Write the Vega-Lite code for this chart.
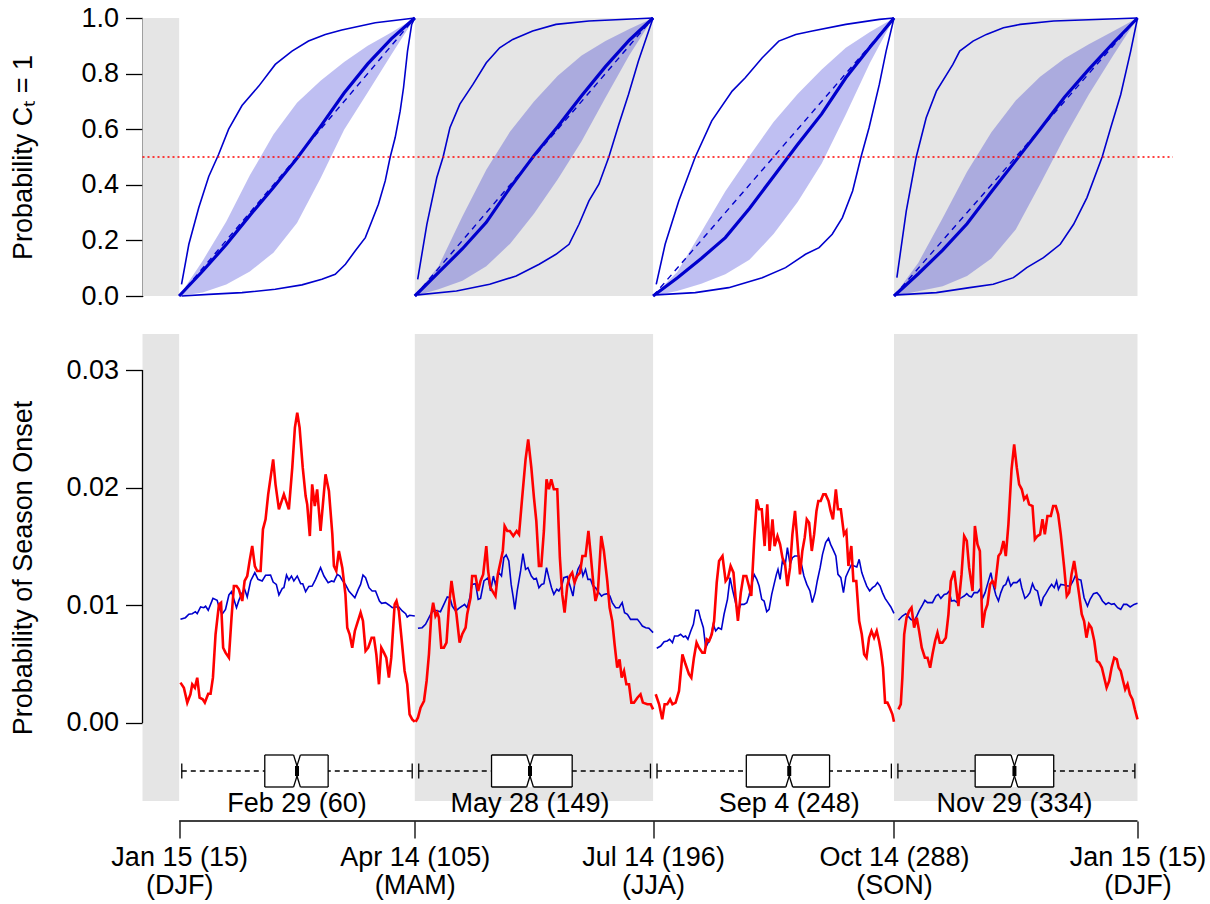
{
"$schema": "https://vega.github.io/schema/vega-lite/v6.json",
"padding": {"left": 8.5, "top": 4, "right": 5, "bottom": 5},
"background": "white",
"bounds": "flush",
"spacing": 38,
"config": {"font": "Liberation Sans", "view": {"stroke": null},
 "axis": {"labelFont": "Liberation Sans", "titleFont": "Liberation Sans", "labelColor": "#000", "titleColor": "#000", "tickColor": "#000", "domainColor": "#000", "grid": false, "labelFontSize": 27, "titleFontSize": 27, "titleFontWeight": "normal", "tickSize": 17, "tickWidth": 1.3, "domainWidth": 1.3, "labelPadding": 7, "labelOverlap": false, "labelFlush": false, "labelBound": false}},
"datasets": {
 "shade": [{"s": 1, "e": 15}, {"s": 105, "e": 196}, {"s": 288, "e": 381}],
 "diag": [{"g":"DJF","d":15,"p":0},{"g":"DJF","d":105,"p":1},{"g":"MAM","d":105,"p":0},{"g":"MAM","d":196,"p":1},{"g":"JJA","d":196,"p":0},{"g":"JJA","d":288,"p":1},{"g":"SON","d":288,"p":0},{"g":"SON","d":381,"p":1}],
 "band": [
  {"g":"DJF","d":15,"lo":0,"hi":0},{"g":"DJF","d":24,"lo":0.013,"hi":0.127},{"g":"DJF","d":33,"lo":0.041,"hi":0.268},{"g":"DJF","d":42,"lo":0.088,"hi":0.434},{"g":"DJF","d":51,"lo":0.156,"hi":0.581},{"g":"DJF","d":60,"lo":0.263,"hi":0.695},{"g":"DJF","d":69,"lo":0.424,"hi":0.774},{"g":"DJF","d":78,"lo":0.598,"hi":0.842},{"g":"DJF","d":87,"lo":0.732,"hi":0.9},{"g":"DJF","d":96,"lo":0.868,"hi":0.948},{"g":"DJF","d":105,"lo":1,"hi":1},
  {"g":"MAM","d":105,"lo":0,"hi":0},{"g":"MAM","d":114.1,"lo":0.024,"hi":0.108},{"g":"MAM","d":123.2,"lo":0.055,"hi":0.287},{"g":"MAM","d":132.3,"lo":0.107,"hi":0.454},{"g":"MAM","d":141.4,"lo":0.188,"hi":0.592},{"g":"MAM","d":150.5,"lo":0.296,"hi":0.7},{"g":"MAM","d":159.6,"lo":0.42,"hi":0.792},{"g":"MAM","d":168.7,"lo":0.557,"hi":0.865},{"g":"MAM","d":177.8,"lo":0.713,"hi":0.917},{"g":"MAM","d":186.9,"lo":0.866,"hi":0.96},{"g":"MAM","d":196,"lo":1,"hi":1},
  {"g":"JJA","d":196,"lo":0,"hi":0},{"g":"JJA","d":205.2,"lo":0.018,"hi":0.086},{"g":"JJA","d":214.4,"lo":0.044,"hi":0.23},{"g":"JJA","d":223.6,"lo":0.078,"hi":0.377},{"g":"JJA","d":232.8,"lo":0.13,"hi":0.504},{"g":"JJA","d":242,"lo":0.223,"hi":0.626},{"g":"JJA","d":251.2,"lo":0.338,"hi":0.727},{"g":"JJA","d":260.4,"lo":0.477,"hi":0.815},{"g":"JJA","d":269.6,"lo":0.653,"hi":0.893},{"g":"JJA","d":278.8,"lo":0.838,"hi":0.95},{"g":"JJA","d":288,"lo":1,"hi":1},
  {"g":"SON","d":288,"lo":0,"hi":0},{"g":"SON","d":297.3,"lo":0.017,"hi":0.12},{"g":"SON","d":306.6,"lo":0.035,"hi":0.281},{"g":"SON","d":315.9,"lo":0.072,"hi":0.447},{"g":"SON","d":325.2,"lo":0.135,"hi":0.589},{"g":"SON","d":334.5,"lo":0.239,"hi":0.703},{"g":"SON","d":343.8,"lo":0.402,"hi":0.789},{"g":"SON","d":353.1,"lo":0.57,"hi":0.854},{"g":"SON","d":362.4,"lo":0.725,"hi":0.906},{"g":"SON","d":371.7,"lo":0.865,"hi":0.952},{"g":"SON","d":381,"lo":1,"hi":1}],
 "med": [
  {"g":"DJF","d":15,"p":0},{"g":"DJF","d":24,"p":0.09},{"g":"DJF","d":33,"p":0.185},{"g":"DJF","d":42,"p":0.29},{"g":"DJF","d":51,"p":0.39},{"g":"DJF","d":60,"p":0.495},{"g":"DJF","d":69,"p":0.61},{"g":"DJF","d":78,"p":0.73},{"g":"DJF","d":87,"p":0.835},{"g":"DJF","d":96,"p":0.925},{"g":"DJF","d":105,"p":1},
  {"g":"MAM","d":105,"p":0},{"g":"MAM","d":114.1,"p":0.085},{"g":"MAM","d":123.2,"p":0.17},{"g":"MAM","d":132.3,"p":0.265},{"g":"MAM","d":141.4,"p":0.39},{"g":"MAM","d":150.5,"p":0.505},{"g":"MAM","d":159.6,"p":0.61},{"g":"MAM","d":168.7,"p":0.72},{"g":"MAM","d":177.8,"p":0.825},{"g":"MAM","d":186.9,"p":0.92},{"g":"MAM","d":196,"p":1},
  {"g":"JJA","d":196,"p":0},{"g":"JJA","d":205.2,"p":0.065},{"g":"JJA","d":214.4,"p":0.135},{"g":"JJA","d":223.6,"p":0.21},{"g":"JJA","d":232.8,"p":0.315},{"g":"JJA","d":242,"p":0.43},{"g":"JJA","d":251.2,"p":0.545},{"g":"JJA","d":260.4,"p":0.655},{"g":"JJA","d":269.6,"p":0.785},{"g":"JJA","d":278.8,"p":0.895},{"g":"JJA","d":288,"p":1},
  {"g":"SON","d":288,"p":0},{"g":"SON","d":297.3,"p":0.08},{"g":"SON","d":306.6,"p":0.165},{"g":"SON","d":315.9,"p":0.26},{"g":"SON","d":325.2,"p":0.375},{"g":"SON","d":334.5,"p":0.487},{"g":"SON","d":343.8,"p":0.6},{"g":"SON","d":353.1,"p":0.715},{"g":"SON","d":362.4,"p":0.815},{"g":"SON","d":371.7,"p":0.91},{"g":"SON","d":381,"p":1}],
 "env": [
  {"g":"DJF","b":"u","d":15.9,"p":0.042},{"g":"DJF","b":"u","d":18.7,"p":0.186},{"g":"DJF","b":"u","d":22.5,"p":0.318},{"g":"DJF","b":"u","d":26.3,"p":0.43},{"g":"DJF","b":"u","d":30.1,"p":0.51},{"g":"DJF","b":"u","d":33.9,"p":0.6},{"g":"DJF","b":"u","d":39,"p":0.685},{"g":"DJF","b":"u","d":45.4,"p":0.755},{"g":"DJF","b":"u","d":51.7,"p":0.833},{"g":"DJF","b":"u","d":58.1,"p":0.881},{"g":"DJF","b":"u","d":64.4,"p":0.917},{"g":"DJF","b":"u","d":70.8,"p":0.941},{"g":"DJF","b":"u","d":77.1,"p":0.957},{"g":"DJF","b":"u","d":89.9,"p":0.983},{"g":"DJF","b":"u","d":105,"p":1},
  {"g":"DJF","b":"l","d":15.9,"p":0},{"g":"DJF","b":"l","d":26.3,"p":0.006},{"g":"DJF","b":"l","d":39,"p":0.012},{"g":"DJF","b":"l","d":51.7,"p":0.024},{"g":"DJF","b":"l","d":61.9,"p":0.04},{"g":"DJF","b":"l","d":69.5,"p":0.06},{"g":"DJF","b":"l","d":74.6,"p":0.078},{"g":"DJF","b":"l","d":78.5,"p":0.114},{"g":"DJF","b":"l","d":82.2,"p":0.162},{"g":"DJF","b":"l","d":86.1,"p":0.21},{"g":"DJF","b":"l","d":88.6,"p":0.27},{"g":"DJF","b":"l","d":91.1,"p":0.33},{"g":"DJF","b":"l","d":93.7,"p":0.414},{"g":"DJF","b":"l","d":95.6,"p":0.5},{"g":"DJF","b":"l","d":97.5,"p":0.57},{"g":"DJF","b":"l","d":99.4,"p":0.665},{"g":"DJF","b":"l","d":100.7,"p":0.75},{"g":"DJF","b":"l","d":102.2,"p":0.88},{"g":"DJF","b":"l","d":103.8,"p":0.977},{"g":"DJF","b":"l","d":105,"p":1},
  {"g":"MAM","b":"u","d":106.1,"p":0.06},{"g":"MAM","b":"u","d":109.6,"p":0.258},{"g":"MAM","b":"u","d":113.4,"p":0.426},{"g":"MAM","b":"u","d":115.8,"p":0.5},{"g":"MAM","b":"u","d":118.4,"p":0.605},{"g":"MAM","b":"u","d":122.2,"p":0.69},{"g":"MAM","b":"u","d":127.2,"p":0.761},{"g":"MAM","b":"u","d":132.3,"p":0.839},{"g":"MAM","b":"u","d":137.4,"p":0.893},{"g":"MAM","b":"u","d":142.4,"p":0.923},{"g":"MAM","b":"u","d":150,"p":0.953},{"g":"MAM","b":"u","d":158.9,"p":0.977},{"g":"MAM","b":"u","d":171.5,"p":0.989},{"g":"MAM","b":"u","d":196,"p":1},
  {"g":"MAM","b":"l","d":106.1,"p":0.004},{"g":"MAM","b":"l","d":120.9,"p":0.018},{"g":"MAM","b":"l","d":133.6,"p":0.042},{"g":"MAM","b":"l","d":143.7,"p":0.072},{"g":"MAM","b":"l","d":152.5,"p":0.114},{"g":"MAM","b":"l","d":158.9,"p":0.15},{"g":"MAM","b":"l","d":163.9,"p":0.186},{"g":"MAM","b":"l","d":167.7,"p":0.258},{"g":"MAM","b":"l","d":171.5,"p":0.342},{"g":"MAM","b":"l","d":175.3,"p":0.402},{"g":"MAM","b":"l","d":179.1,"p":0.5},{"g":"MAM","b":"l","d":182.9,"p":0.617},{"g":"MAM","b":"l","d":186.6,"p":0.725},{"g":"MAM","b":"l","d":190.4,"p":0.845},{"g":"MAM","b":"l","d":194.3,"p":0.953},{"g":"MAM","b":"l","d":196,"p":1},
  {"g":"JJA","b":"u","d":197.2,"p":0.042},{"g":"JJA","b":"u","d":200.6,"p":0.186},{"g":"JJA","b":"u","d":205.8,"p":0.342},{"g":"JJA","b":"u","d":212.1,"p":0.5},{"g":"JJA","b":"u","d":218.4,"p":0.63},{"g":"JJA","b":"u","d":226.2,"p":0.737},{"g":"JJA","b":"u","d":231.2,"p":0.785},{"g":"JJA","b":"u","d":237.7,"p":0.857},{"g":"JJA","b":"u","d":244,"p":0.917},{"g":"JJA","b":"u","d":250.5,"p":0.941},{"g":"JJA","b":"u","d":256.8,"p":0.953},{"g":"JJA","b":"u","d":269.6,"p":0.977},{"g":"JJA","b":"u","d":282.4,"p":0.995},{"g":"JJA","b":"u","d":288,"p":1},
  {"g":"JJA","b":"l","d":197.2,"p":0.004},{"g":"JJA","b":"l","d":212.1,"p":0.012},{"g":"JJA","b":"l","d":224.9,"p":0.03},{"g":"JJA","b":"l","d":237.7,"p":0.066},{"g":"JJA","b":"l","d":246.6,"p":0.102},{"g":"JJA","b":"l","d":254.2,"p":0.15},{"g":"JJA","b":"l","d":259.4,"p":0.174},{"g":"JJA","b":"l","d":264.4,"p":0.222},{"g":"JJA","b":"l","d":268.3,"p":0.282},{"g":"JJA","b":"l","d":272.2,"p":0.378},{"g":"JJA","b":"l","d":275.4,"p":0.5},{"g":"JJA","b":"l","d":278.5,"p":0.606},{"g":"JJA","b":"l","d":282.4,"p":0.761},{"g":"JJA","b":"l","d":285,"p":0.881},{"g":"JJA","b":"l","d":288,"p":1},
  {"g":"SON","b":"u","d":289.1,"p":0.066},{"g":"SON","b":"u","d":292.7,"p":0.306},{"g":"SON","b":"u","d":296.5,"p":0.5},{"g":"SON","b":"u","d":300.3,"p":0.641},{"g":"SON","b":"u","d":304.2,"p":0.737},{"g":"SON","b":"u","d":310.5,"p":0.833},{"g":"SON","b":"u","d":313.1,"p":0.881},{"g":"SON","b":"u","d":318.2,"p":0.917},{"g":"SON","b":"u","d":323.3,"p":0.941},{"g":"SON","b":"u","d":329.8,"p":0.965},{"g":"SON","b":"u","d":336.2,"p":0.977},{"g":"SON","b":"u","d":349,"p":0.989},{"g":"SON","b":"u","d":381,"p":1},
  {"g":"SON","b":"l","d":289.1,"p":0.004},{"g":"SON","b":"l","d":304.2,"p":0.012},{"g":"SON","b":"l","d":316.9,"p":0.03},{"g":"SON","b":"l","d":325.9,"p":0.042},{"g":"SON","b":"l","d":333.6,"p":0.066},{"g":"SON","b":"l","d":338.7,"p":0.102},{"g":"SON","b":"l","d":345.1,"p":0.138},{"g":"SON","b":"l","d":351.5,"p":0.186},{"g":"SON","b":"l","d":356.6,"p":0.258},{"g":"SON","b":"l","d":361.7,"p":0.354},{"g":"SON","b":"l","d":367.5,"p":0.5},{"g":"SON","b":"l","d":370.8,"p":0.606},{"g":"SON","b":"l","d":374.6,"p":0.725},{"g":"SON","b":"l","d":378.4,"p":0.881},{"g":"SON","b":"l","d":381,"p":1}],
 "red": [
  {"g":"DJF","d":15.5,"p":0.00343},{"g":"DJF","d":16.8,"p":0.0030},{"g":"DJF","d":18.1,"p":0.00173},{"g":"DJF","d":19.3,"p":0.00244},{"g":"DJF","d":20,"p":0.00329},{"g":"DJF","d":21,"p":0.0030},{"g":"DJF","d":21.9,"p":0.00385},{"g":"DJF","d":22.8,"p":0.00215},{"g":"DJF","d":24,"p":0.00201},{"g":"DJF","d":24.8,"p":0.00173},{"g":"DJF","d":26.1,"p":0.00249},{"g":"DJF","d":27,"p":0.00249},{"g":"DJF","d":27.9,"p":0.00385},{"g":"DJF","d":28.9,"p":0.00754},{"g":"DJF","d":30.2,"p":0.01008},{"g":"DJF","d":31,"p":0.01023},{"g":"DJF","d":31.8,"p":0.0064},{"g":"DJF","d":32.7,"p":0.00598},{"g":"DJF","d":34,"p":0.00555},{"g":"DJF","d":35,"p":0.00895},{"g":"DJF","d":35.9,"p":0.01164},{"g":"DJF","d":36.9,"p":0.01164},{"g":"DJF","d":37.8,"p":0.01136},{"g":"DJF","d":39.1,"p":0.01037},{"g":"DJF","d":40,"p":0.01207},{"g":"DJF","d":41,"p":0.01249},{"g":"DJF","d":41.9,"p":0.01377},{"g":"DJF","d":42.9,"p":0.01504},{"g":"DJF","d":43.9,"p":0.01334},{"g":"DJF","d":44.8,"p":0.01292},{"g":"DJF","d":46.1,"p":0.01292},{"g":"DJF","d":47,"p":0.01646},{"g":"DJF","d":48,"p":0.01731},{"g":"DJF","d":49,"p":0.01943},{"g":"DJF","d":50.9,"p":0.02241},{"g":"DJF","d":51.8,"p":0.02028},{"g":"DJF","d":53.1,"p":0.01816},{"g":"DJF","d":55,"p":0.01943},{"g":"DJF","d":56.9,"p":0.01816},{"g":"DJF","d":58.2,"p":0.0217},{"g":"DJF","d":59.2,"p":0.0251},{"g":"DJF","d":60.1,"p":0.02637},{"g":"DJF","d":61,"p":0.0251},{"g":"DJF","d":62.2,"p":0.0217},{"g":"DJF","d":63.3,"p":0.01929},{"g":"DJF","d":63.9,"p":0.01858},{"g":"DJF","d":64.9,"p":0.01589},{"g":"DJF","d":65.8,"p":0.02028},{"g":"DJF","d":66.8,"p":0.01844},{"g":"DJF","d":67.7,"p":0.01986},{"g":"DJF","d":69,"p":0.01632},{"g":"DJF","d":70.9,"p":0.02113},{"g":"DJF","d":72.2,"p":0.01972},{"g":"DJF","d":73.5,"p":0.01603},{"g":"DJF","d":74.1,"p":0.01334},{"g":"DJF","d":75,"p":0.01292},{"g":"DJF","d":76,"p":0.01462},{"g":"DJF","d":77.3,"p":0.0132},{"g":"DJF","d":78.5,"p":0.01093},{"g":"DJF","d":79.2,"p":0.0081},{"g":"DJF","d":80.1,"p":0.00754},{"g":"DJF","d":81.1,"p":0.0064},{"g":"DJF","d":82.1,"p":0.00782},{"g":"DJF","d":83.3,"p":0.00867},{"g":"DJF","d":84.3,"p":0.00938},{"g":"DJF","d":85.2,"p":0.00867},{"g":"DJF","d":86.2,"p":0.00612},{"g":"DJF","d":87.2,"p":0.0064},{"g":"DJF","d":88.5,"p":0.00725},{"g":"DJF","d":89.4,"p":0.00725},{"g":"DJF","d":90.3,"p":0.00584},{"g":"DJF","d":91.3,"p":0.00329},{"g":"DJF","d":92.2,"p":0.0064},{"g":"DJF","d":93.2,"p":0.00598},{"g":"DJF","d":94.1,"p":0.00555},{"g":"DJF","d":95.1,"p":0.00385},{"g":"DJF","d":96,"p":0.00555},{"g":"DJF","d":97.3,"p":0.01008},{"g":"DJF","d":98,"p":0.01037},{"g":"DJF","d":98.9,"p":0.00952},{"g":"DJF","d":99.9,"p":0.00725},{"g":"DJF","d":101.1,"p":0.00442},{"g":"DJF","d":102.1,"p":0.00329},{"g":"DJF","d":103,"p":0.00074},{"g":"DJF","d":104,"p":0.00031},{"g":"DJF","d":105,"p":0.0001},
  {"g":"MAM","d":105.3,"p":0.0001},{"g":"MAM","d":106.2,"p":0.00045},{"g":"MAM","d":107.2,"p":0.0013},{"g":"MAM","d":108.5,"p":0.00187},{"g":"MAM","d":109.5,"p":0.00357},{"g":"MAM","d":110.4,"p":0.00584},{"g":"MAM","d":111.3,"p":0.00924},{"g":"MAM","d":112,"p":0.01023},{"g":"MAM","d":112.9,"p":0.00909},{"g":"MAM","d":113.6,"p":0.00938},{"g":"MAM","d":114.2,"p":0.00895},{"g":"MAM","d":115.1,"p":0.0064},{"g":"MAM","d":116.1,"p":0.0064},{"g":"MAM","d":117.1,"p":0.00683},{"g":"MAM","d":118,"p":0.0098},{"g":"MAM","d":119,"p":0.01207},{"g":"MAM","d":119.9,"p":0.01065},{"g":"MAM","d":120.9,"p":0.00924},{"g":"MAM","d":122.1,"p":0.00683},{"g":"MAM","d":123.1,"p":0.00754},{"g":"MAM","d":124.4,"p":0.0081},{"g":"MAM","d":125,"p":0.00924},{"g":"MAM","d":126.3,"p":0.01065},{"g":"MAM","d":126.9,"p":0.01249},{"g":"MAM","d":128.2,"p":0.01249},{"g":"MAM","d":129.2,"p":0.01122},{"g":"MAM","d":130.1,"p":0.01207},{"g":"MAM","d":131.1,"p":0.01263},{"g":"MAM","d":132.3,"p":0.01504},{"g":"MAM","d":133,"p":0.01292},{"g":"MAM","d":133.9,"p":0.0115},{"g":"MAM","d":135,"p":0.01108},{"g":"MAM","d":135.8,"p":0.01079},{"g":"MAM","d":136.7,"p":0.01263},{"g":"MAM","d":137.8,"p":0.01377},{"g":"MAM","d":138.6,"p":0.01462},{"g":"MAM","d":139.3,"p":0.01674},{"g":"MAM","d":140.3,"p":0.01632},{"g":"MAM","d":141.3,"p":0.01632},{"g":"MAM","d":142.6,"p":0.01589},{"g":"MAM","d":143.9,"p":0.01632},{"g":"MAM","d":144.8,"p":0.01603},{"g":"MAM","d":146,"p":0.01915},{"g":"MAM","d":147.3,"p":0.02241},{"g":"MAM","d":148.3,"p":0.02411},{"g":"MAM","d":149.5,"p":0.0217},{"g":"MAM","d":150.5,"p":0.01915},{"g":"MAM","d":151.4,"p":0.01717},{"g":"MAM","d":152.4,"p":0.01334},{"g":"MAM","d":153.3,"p":0.01334},{"g":"MAM","d":154.3,"p":0.01632},{"g":"MAM","d":155.3,"p":0.02071},{"g":"MAM","d":156.2,"p":0.01986},{"g":"MAM","d":157.1,"p":0.02071},{"g":"MAM","d":158.1,"p":0.01986},{"g":"MAM","d":159.4,"p":0.01986},{"g":"MAM","d":160.4,"p":0.01405},{"g":"MAM","d":161.3,"p":0.01093},{"g":"MAM","d":162.2,"p":0.00938},{"g":"MAM","d":163.2,"p":0.01164},{"g":"MAM","d":164.2,"p":0.01249},{"g":"MAM","d":165.1,"p":0.01278},{"g":"MAM","d":166,"p":0.01193},{"g":"MAM","d":167,"p":0.01249},{"g":"MAM","d":168.1,"p":0.01278},{"g":"MAM","d":169,"p":0.01419},{"g":"MAM","d":170.2,"p":0.01419},{"g":"MAM","d":171.3,"p":0.01632},{"g":"MAM","d":172.1,"p":0.01448},{"g":"MAM","d":173.2,"p":0.01178},{"g":"MAM","d":174,"p":0.01037},{"g":"MAM","d":174.9,"p":0.01108},{"g":"MAM","d":176.2,"p":0.01589},{"g":"MAM","d":177.2,"p":0.01462},{"g":"MAM","d":178.5,"p":0.01207},{"g":"MAM","d":179.4,"p":0.0098},{"g":"MAM","d":180.4,"p":0.00867},{"g":"MAM","d":181.3,"p":0.00669},{"g":"MAM","d":182.3,"p":0.0047},{"g":"MAM","d":183.2,"p":0.00541},{"g":"MAM","d":184,"p":0.00385},{"g":"MAM","d":184.9,"p":0.00442},{"g":"MAM","d":185.8,"p":0.00329},{"g":"MAM","d":186.8,"p":0.00329},{"g":"MAM","d":187.7,"p":0.00173},{"g":"MAM","d":188.7,"p":0.00173},{"g":"MAM","d":190,"p":0.00215},{"g":"MAM","d":191.2,"p":0.00244},{"g":"MAM","d":192.1,"p":0.00173},{"g":"MAM","d":193.8,"p":0.00159},{"g":"MAM","d":195.1,"p":0.00159},{"g":"MAM","d":196,"p":0.00116},
  {"g":"JJA","d":197,"p":0.00244},{"g":"JJA","d":198.3,"p":0.00159},{"g":"JJA","d":199.5,"p":0.00031},{"g":"JJA","d":200.4,"p":0.00159},{"g":"JJA","d":201.4,"p":0.00159},{"g":"JJA","d":202.5,"p":0.00201},{"g":"JJA","d":203.4,"p":0.00159},{"g":"JJA","d":204.6,"p":0.00173},{"g":"JJA","d":205.9,"p":0.00272},{"g":"JJA","d":207.2,"p":0.00584},{"g":"JJA","d":208.4,"p":0.00499},{"g":"JJA","d":209.7,"p":0.00414},{"g":"JJA","d":210.6,"p":0.00385},{"g":"JJA","d":211.6,"p":0.00555},{"g":"JJA","d":212.6,"p":0.00683},{"g":"JJA","d":213.5,"p":0.0064},{"g":"JJA","d":214.8,"p":0.00598},{"g":"JJA","d":215.7,"p":0.00598},{"g":"JJA","d":216.5,"p":0.00711},{"g":"JJA","d":217.4,"p":0.00697},{"g":"JJA","d":218.4,"p":0.00754},{"g":"JJA","d":219.3,"p":0.00867},{"g":"JJA","d":220.3,"p":0.01193},{"g":"JJA","d":221.2,"p":0.01377},{"g":"JJA","d":222.5,"p":0.01419},{"g":"JJA","d":223.7,"p":0.01207},{"g":"JJA","d":224.6,"p":0.01235},{"g":"JJA","d":225.6,"p":0.01334},{"g":"JJA","d":226.7,"p":0.01278},{"g":"JJA","d":227.5,"p":0.01065},{"g":"JJA","d":228.4,"p":0.00867},{"g":"JJA","d":229.5,"p":0.01108},{"g":"JJA","d":230.5,"p":0.01249},{"g":"JJA","d":231.6,"p":0.01249},{"g":"JJA","d":232.6,"p":0.01164},{"g":"JJA","d":233.5,"p":0.01079},{"g":"JJA","d":234.6,"p":0.01547},{"g":"JJA","d":235.6,"p":0.01901},{"g":"JJA","d":236.5,"p":0.01816},{"g":"JJA","d":237.5,"p":0.01816},{"g":"JJA","d":238.6,"p":0.01504},{"g":"JJA","d":239.6,"p":0.01858},{"g":"JJA","d":240.5,"p":0.01462},{"g":"JJA","d":241.6,"p":0.01731},{"g":"JJA","d":242.4,"p":0.01504},{"g":"JJA","d":243.5,"p":0.01589},{"g":"JJA","d":244.5,"p":0.01518},{"g":"JJA","d":245.4,"p":0.01405},{"g":"JJA","d":246.4,"p":0.01348},{"g":"JJA","d":247.3,"p":0.01164},{"g":"JJA","d":248.3,"p":0.0132},{"g":"JJA","d":249.2,"p":0.01603},{"g":"JJA","d":250.2,"p":0.01802},{"g":"JJA","d":251.1,"p":0.01547},{"g":"JJA","d":252.1,"p":0.01263},{"g":"JJA","d":253,"p":0.01462},{"g":"JJA","d":253.9,"p":0.01575},{"g":"JJA","d":254.7,"p":0.01731},{"g":"JJA","d":255.6,"p":0.01703},{"g":"JJA","d":256.6,"p":0.01462},{"g":"JJA","d":257.5,"p":0.01603},{"g":"JJA","d":258.4,"p":0.01802},{"g":"JJA","d":259.1,"p":0.01887},{"g":"JJA","d":260,"p":0.01887},{"g":"JJA","d":261,"p":0.01943},{"g":"JJA","d":261.9,"p":0.01943},{"g":"JJA","d":263,"p":0.01887},{"g":"JJA","d":263.8,"p":0.01802},{"g":"JJA","d":264.7,"p":0.01731},{"g":"JJA","d":265.8,"p":0.01986},{"g":"JJA","d":266.6,"p":0.01816},{"g":"JJA","d":267.7,"p":0.01816},{"g":"JJA","d":268.9,"p":0.01603},{"g":"JJA","d":269.8,"p":0.01632},{"g":"JJA","d":270.6,"p":0.01334},{"g":"JJA","d":271.7,"p":0.01504},{"g":"JJA","d":272.5,"p":0.01207},{"g":"JJA","d":273.6,"p":0.01207},{"g":"JJA","d":274.7,"p":0.00867},{"g":"JJA","d":275.7,"p":0.00754},{"g":"JJA","d":276.6,"p":0.00584},{"g":"JJA","d":277.5,"p":0.00555},{"g":"JJA","d":278.5,"p":0.00725},{"g":"JJA","d":279.4,"p":0.00782},{"g":"JJA","d":280.4,"p":0.00725},{"g":"JJA","d":281.4,"p":0.00782},{"g":"JJA","d":282.3,"p":0.00697},{"g":"JJA","d":283,"p":0.00612},{"g":"JJA","d":283.8,"p":0.0047},{"g":"JJA","d":284.6,"p":0.00173},{"g":"JJA","d":285.5,"p":0.00173},{"g":"JJA","d":286.4,"p":0.0013},{"g":"JJA","d":287.4,"p":0.00074},{"g":"JJA","d":288,"p":0.0001},
  {"g":"SON","d":289.7,"p":0.00116},{"g":"SON","d":290.6,"p":0.00159},{"g":"SON","d":291.2,"p":0.00385},{"g":"SON","d":291.9,"p":0.00754},{"g":"SON","d":292.8,"p":0.00895},{"g":"SON","d":293.8,"p":0.00952},{"g":"SON","d":294.7,"p":0.0098},{"g":"SON","d":295.7,"p":0.0081},{"g":"SON","d":296.7,"p":0.00895},{"g":"SON","d":297.6,"p":0.00782},{"g":"SON","d":298.6,"p":0.0064},{"g":"SON","d":299.8,"p":0.00555},{"g":"SON","d":300.8,"p":0.00555},{"g":"SON","d":301.8,"p":0.0047},{"g":"SON","d":302.7,"p":0.00584},{"g":"SON","d":303.7,"p":0.00697},{"g":"SON","d":304.6,"p":0.00768},{"g":"SON","d":305.5,"p":0.00683},{"g":"SON","d":306.5,"p":0.00683},{"g":"SON","d":307.8,"p":0.00725},{"g":"SON","d":308.8,"p":0.00924},{"g":"SON","d":309.7,"p":0.01207},{"g":"SON","d":311,"p":0.01292},{"g":"SON","d":311.9,"p":0.01122},{"g":"SON","d":312.6,"p":0.00994},{"g":"SON","d":313.8,"p":0.01263},{"g":"SON","d":314.8,"p":0.01589},{"g":"SON","d":315.8,"p":0.01547},{"g":"SON","d":316.7,"p":0.0132},{"g":"SON","d":318,"p":0.01122},{"g":"SON","d":318.9,"p":0.01674},{"g":"SON","d":319.9,"p":0.01518},{"g":"SON","d":320.8,"p":0.01462},{"g":"SON","d":321.8,"p":0.0081},{"g":"SON","d":322.8,"p":0.00952},{"g":"SON","d":323.7,"p":0.01008},{"g":"SON","d":324.7,"p":0.01178},{"g":"SON","d":325.6,"p":0.01207},{"g":"SON","d":326.6,"p":0.01164},{"g":"SON","d":327.9,"p":0.01419},{"g":"SON","d":328.8,"p":0.01448},{"g":"SON","d":329.8,"p":0.01547},{"g":"SON","d":330.7,"p":0.01419},{"g":"SON","d":331.7,"p":0.01688},{"g":"SON","d":332.9,"p":0.02156},{"g":"SON","d":333.9,"p":0.02368},{"g":"SON","d":334.9,"p":0.0217},{"g":"SON","d":335.8,"p":0.02028},{"g":"SON","d":336.8,"p":0.01986},{"g":"SON","d":337.7,"p":0.01901},{"g":"SON","d":338.7,"p":0.01929},{"g":"SON","d":339.6,"p":0.01858},{"g":"SON","d":340.9,"p":0.01844},{"g":"SON","d":341.8,"p":0.01561},{"g":"SON","d":342.8,"p":0.01589},{"g":"SON","d":343.8,"p":0.01603},{"g":"SON","d":344.7,"p":0.01731},{"g":"SON","d":345.6,"p":0.01603},{"g":"SON","d":346.6,"p":0.01759},{"g":"SON","d":347.9,"p":0.01759},{"g":"SON","d":348.8,"p":0.01844},{"g":"SON","d":349.8,"p":0.01844},{"g":"SON","d":350.7,"p":0.01773},{"g":"SON","d":351.7,"p":0.01603},{"g":"SON","d":353,"p":0.0132},{"g":"SON","d":354,"p":0.01079},{"g":"SON","d":354.9,"p":0.01108},{"g":"SON","d":355.8,"p":0.01263},{"g":"SON","d":356.8,"p":0.01377},{"g":"SON","d":357.8,"p":0.01235},{"g":"SON","d":358.7,"p":0.01093},{"g":"SON","d":359.7,"p":0.00924},{"g":"SON","d":360.6,"p":0.00867},{"g":"SON","d":361.5,"p":0.00725},{"g":"SON","d":362.5,"p":0.00839},{"g":"SON","d":363.4,"p":0.0081},{"g":"SON","d":364.5,"p":0.00697},{"g":"SON","d":365.5,"p":0.00527},{"g":"SON","d":366.4,"p":0.00513},{"g":"SON","d":367.4,"p":0.0047},{"g":"SON","d":368.3,"p":0.00385},{"g":"SON","d":369.2,"p":0.0030},{"g":"SON","d":370.2,"p":0.00357},{"g":"SON","d":371.1,"p":0.0047},{"g":"SON","d":372.1,"p":0.00555},{"g":"SON","d":373.1,"p":0.00541},{"g":"SON","d":373.8,"p":0.0047},{"g":"SON","d":374.6,"p":0.00442},{"g":"SON","d":375.5,"p":0.00357},{"g":"SON","d":376.3,"p":0.00286},{"g":"SON","d":377.2,"p":0.00329},{"g":"SON","d":378.1,"p":0.00244},{"g":"SON","d":379.1,"p":0.00201},{"g":"SON","d":380,"p":0.00116},{"g":"SON","d":381,"p":0.00031}],
 "blue": [
  {"g":"DJF","d":15.5,"p":0.00881},{"g":"DJF","d":17.4,"p":0.00895},{"g":"DJF","d":18.7,"p":0.00924},{"g":"DJF","d":20,"p":0.00929},{"g":"DJF","d":21.2,"p":0.00946},{"g":"DJF","d":21.9,"p":0.00929},{"g":"DJF","d":23.2,"p":0.00986},{"g":"DJF","d":24.4,"p":0.0098},{"g":"DJF","d":25.1,"p":0.00992},{"g":"DJF","d":26.1,"p":0.00958},{"g":"DJF","d":27.9,"p":0.01059},{"g":"DJF","d":29.5,"p":0.01042},{"g":"DJF","d":30.5,"p":0.00966},{"g":"DJF","d":31.4,"p":0.00924},{"g":"DJF","d":32.7,"p":0.00966},{"g":"DJF","d":34,"p":0.01088},{"g":"DJF","d":35,"p":0.01116},{"g":"DJF","d":35.9,"p":0.01051},{"g":"DJF","d":36.9,"p":0.0098},{"g":"DJF","d":37.8,"p":0.01042},{"g":"DJF","d":39.1,"p":0.01108},{"g":"DJF","d":40,"p":0.01136},{"g":"DJF","d":41,"p":0.01071},{"g":"DJF","d":42.3,"p":0.01207},{"g":"DJF","d":43.9,"p":0.01278},{"g":"DJF","d":45.1,"p":0.01221},{"g":"DJF","d":46.7,"p":0.01207},{"g":"DJF","d":48,"p":0.01255},{"g":"DJF","d":49.9,"p":0.01258},{"g":"DJF","d":50.9,"p":0.01198},{"g":"DJF","d":52.1,"p":0.01178},{"g":"DJF","d":53.1,"p":0.01088},{"g":"DJF","d":54.4,"p":0.01144},{"g":"DJF","d":55,"p":0.0115},{"g":"DJF","d":56,"p":0.01258},{"g":"DJF","d":56.9,"p":0.01215},{"g":"DJF","d":57.9,"p":0.01249},{"g":"DJF","d":58.8,"p":0.01207},{"g":"DJF","d":60.1,"p":0.01249},{"g":"DJF","d":61.4,"p":0.01184},{"g":"DJF","d":62.2,"p":0.01184},{"g":"DJF","d":63.3,"p":0.01116},{"g":"DJF","d":64.5,"p":0.01161},{"g":"DJF","d":65.8,"p":0.01164},{"g":"DJF","d":67.1,"p":0.01221},{"g":"DJF","d":69,"p":0.0132},{"g":"DJF","d":70.3,"p":0.01249},{"g":"DJF","d":71.9,"p":0.01193},{"g":"DJF","d":73.2,"p":0.01207},{"g":"DJF","d":74.1,"p":0.01201},{"g":"DJF","d":75.4,"p":0.01263},{"g":"DJF","d":76.4,"p":0.01249},{"g":"DJF","d":77.3,"p":0.01212},{"g":"DJF","d":78.5,"p":0.01178},{"g":"DJF","d":79.8,"p":0.01122},{"g":"DJF","d":82.1,"p":0.01065},{"g":"DJF","d":83.4,"p":0.01136},{"g":"DJF","d":84.3,"p":0.01178},{"g":"DJF","d":85.2,"p":0.01258},{"g":"DJF","d":86.2,"p":0.01235},{"g":"DJF","d":87.5,"p":0.0115},{"g":"DJF","d":88.7,"p":0.01122},{"g":"DJF","d":90,"p":0.01122},{"g":"DJF","d":91.5,"p":0.01037},{"g":"DJF","d":92.3,"p":0.01017},{"g":"DJF","d":93.8,"p":0.01023},{"g":"DJF","d":95.1,"p":0.01003},{"g":"DJF","d":96.4,"p":0.0098},{"g":"DJF","d":97.6,"p":0.00986},{"g":"DJF","d":98.9,"p":0.00986},{"g":"DJF","d":100.2,"p":0.00952},{"g":"DJF","d":101.5,"p":0.00929},{"g":"DJF","d":102.1,"p":0.00901},{"g":"DJF","d":103,"p":0.00915},{"g":"DJF","d":105,"p":0.00909},
  {"g":"MAM","d":106.2,"p":0.00805},{"g":"MAM","d":107.8,"p":0.0081},{"g":"MAM","d":109.1,"p":0.00839},{"g":"MAM","d":110.4,"p":0.00895},{"g":"MAM","d":111.6,"p":0.00946},{"g":"MAM","d":112.9,"p":0.00958},{"g":"MAM","d":114.8,"p":0.00946},{"g":"MAM","d":116.1,"p":0.01008},{"g":"MAM","d":117.4,"p":0.01071},{"g":"MAM","d":118.4,"p":0.01065},{"g":"MAM","d":119.3,"p":0.00994},{"g":"MAM","d":120.6,"p":0.00952},{"g":"MAM","d":121.8,"p":0.00975},{"g":"MAM","d":123.1,"p":0.00994},{"g":"MAM","d":124,"p":0.01008},{"g":"MAM","d":125,"p":0.0098},{"g":"MAM","d":126,"p":0.01065},{"g":"MAM","d":126.9,"p":0.01178},{"g":"MAM","d":128.2,"p":0.01184},{"g":"MAM","d":129.2,"p":0.01051},{"g":"MAM","d":130.1,"p":0.01059},{"g":"MAM","d":131.4,"p":0.01207},{"g":"MAM","d":133,"p":0.01235},{"g":"MAM","d":133.9,"p":0.01122},{"g":"MAM","d":135,"p":0.01249},{"g":"MAM","d":135.8,"p":0.01178},{"g":"MAM","d":137.1,"p":0.01278},{"g":"MAM","d":138.1,"p":0.01249},{"g":"MAM","d":139,"p":0.01405},{"g":"MAM","d":139.9,"p":0.01428},{"g":"MAM","d":140.9,"p":0.01377},{"g":"MAM","d":141.8,"p":0.01178},{"g":"MAM","d":142.6,"p":0.01065},{"g":"MAM","d":143.2,"p":0.00966},{"g":"MAM","d":144.1,"p":0.01122},{"g":"MAM","d":145.4,"p":0.01292},{"g":"MAM","d":146.3,"p":0.01439},{"g":"MAM","d":147.3,"p":0.01306},{"g":"MAM","d":148.2,"p":0.0132},{"g":"MAM","d":149.5,"p":0.01249},{"g":"MAM","d":150.5,"p":0.01221},{"g":"MAM","d":151.4,"p":0.01229},{"g":"MAM","d":152.4,"p":0.0115},{"g":"MAM","d":153.4,"p":0.01178},{"g":"MAM","d":154.3,"p":0.01184},{"g":"MAM","d":155.3,"p":0.0132},{"g":"MAM","d":156.2,"p":0.01235},{"g":"MAM","d":157.2,"p":0.0115},{"g":"MAM","d":158.1,"p":0.01093},{"g":"MAM","d":159.2,"p":0.01136},{"g":"MAM","d":160,"p":0.01122},{"g":"MAM","d":161.1,"p":0.01164},{"g":"MAM","d":161.9,"p":0.01235},{"g":"MAM","d":163.2,"p":0.01244},{"g":"MAM","d":164.5,"p":0.0115},{"g":"MAM","d":165.4,"p":0.01079},{"g":"MAM","d":166.2,"p":0.01207},{"g":"MAM","d":167.3,"p":0.01306},{"g":"MAM","d":168.3,"p":0.01348},{"g":"MAM","d":169.2,"p":0.01249},{"g":"MAM","d":170.2,"p":0.01306},{"g":"MAM","d":171.1,"p":0.01221},{"g":"MAM","d":172.1,"p":0.01221},{"g":"MAM","d":173,"p":0.01164},{"g":"MAM","d":174,"p":0.0115},{"g":"MAM","d":175.3,"p":0.01108},{"g":"MAM","d":176.3,"p":0.01079},{"g":"MAM","d":177.2,"p":0.01093},{"g":"MAM","d":178.5,"p":0.01099},{"g":"MAM","d":179.5,"p":0.01079},{"g":"MAM","d":180.4,"p":0.01023},{"g":"MAM","d":181.7,"p":0.0098},{"g":"MAM","d":183,"p":0.0098},{"g":"MAM","d":184.2,"p":0.01023},{"g":"MAM","d":185.1,"p":0.00938},{"g":"MAM","d":186.2,"p":0.00924},{"g":"MAM","d":187.4,"p":0.00881},{"g":"MAM","d":188.7,"p":0.00881},{"g":"MAM","d":190,"p":0.00881},{"g":"MAM","d":191,"p":0.00853},{"g":"MAM","d":191.9,"p":0.00824},{"g":"MAM","d":193.2,"p":0.0081},{"g":"MAM","d":194.4,"p":0.00805},{"g":"MAM","d":196,"p":0.00768},
  {"g":"JJA","d":197.4,"p":0.00635},{"g":"JJA","d":198.9,"p":0.00654},{"g":"JJA","d":200.2,"p":0.00691},{"g":"JJA","d":201.4,"p":0.00697},{"g":"JJA","d":202.3,"p":0.00711},{"g":"JJA","d":203.4,"p":0.00683},{"g":"JJA","d":204.2,"p":0.00739},{"g":"JJA","d":205.5,"p":0.00739},{"g":"JJA","d":206.5,"p":0.00754},{"g":"JJA","d":207.6,"p":0.00731},{"g":"JJA","d":208.4,"p":0.00739},{"g":"JJA","d":209.3,"p":0.00711},{"g":"JJA","d":210.4,"p":0.00782},{"g":"JJA","d":211.4,"p":0.00839},{"g":"JJA","d":212.3,"p":0.00958},{"g":"JJA","d":213.3,"p":0.00958},{"g":"JJA","d":214.2,"p":0.00881},{"g":"JJA","d":215.2,"p":0.0081},{"g":"JJA","d":216.1,"p":0.0064},{"g":"JJA","d":217,"p":0.00683},{"g":"JJA","d":218,"p":0.00725},{"g":"JJA","d":219,"p":0.00839},{"g":"JJA","d":219.9,"p":0.00782},{"g":"JJA","d":220.9,"p":0.0081},{"g":"JJA","d":222.1,"p":0.00796},{"g":"JJA","d":223.1,"p":0.00924},{"g":"JJA","d":224.4,"p":0.01051},{"g":"JJA","d":225.4,"p":0.01235},{"g":"JJA","d":226.3,"p":0.01136},{"g":"JJA","d":227.5,"p":0.01023},{"g":"JJA","d":228.4,"p":0.00946},{"g":"JJA","d":229.5,"p":0.01008},{"g":"JJA","d":230.7,"p":0.01008},{"g":"JJA","d":231.8,"p":0.01023},{"g":"JJA","d":232.6,"p":0.01079},{"g":"JJA","d":233.5,"p":0.01164},{"g":"JJA","d":234.6,"p":0.01263},{"g":"JJA","d":235.6,"p":0.01221},{"g":"JJA","d":236.5,"p":0.01164},{"g":"JJA","d":237.5,"p":0.01051},{"g":"JJA","d":238.4,"p":0.01037},{"g":"JJA","d":239.4,"p":0.00946},{"g":"JJA","d":240.3,"p":0.00966},{"g":"JJA","d":241.3,"p":0.01093},{"g":"JJA","d":242.2,"p":0.01178},{"g":"JJA","d":243.1,"p":0.01263},{"g":"JJA","d":243.7,"p":0.01306},{"g":"JJA","d":244.5,"p":0.01221},{"g":"JJA","d":245.4,"p":0.01382},{"g":"JJA","d":246.4,"p":0.01334},{"g":"JJA","d":247.3,"p":0.0149},{"g":"JJA","d":248.3,"p":0.01348},{"g":"JJA","d":249.2,"p":0.01405},{"g":"JJA","d":250.1,"p":0.01419},{"g":"JJA","d":251.7,"p":0.01419},{"g":"JJA","d":252.8,"p":0.01334},{"g":"JJA","d":253.6,"p":0.01249},{"g":"JJA","d":254.7,"p":0.01178},{"g":"JJA","d":255.9,"p":0.01122},{"g":"JJA","d":256.8,"p":0.01023},{"g":"JJA","d":257.9,"p":0.01108},{"g":"JJA","d":258.7,"p":0.01207},{"g":"JJA","d":259.8,"p":0.0132},{"g":"JJA","d":260.7,"p":0.01433},{"g":"JJA","d":261.9,"p":0.01533},{"g":"JJA","d":263,"p":0.01569},{"g":"JJA","d":263.8,"p":0.01518},{"g":"JJA","d":264.7,"p":0.01476},{"g":"JJA","d":265.8,"p":0.01419},{"g":"JJA","d":266.6,"p":0.01263},{"g":"JJA","d":267.7,"p":0.01235},{"g":"JJA","d":268.7,"p":0.01108},{"g":"JJA","d":269.6,"p":0.01241},{"g":"JJA","d":270.6,"p":0.01292},{"g":"JJA","d":271.7,"p":0.01343},{"g":"JJA","d":272.8,"p":0.01334},{"g":"JJA","d":273.8,"p":0.01326},{"g":"JJA","d":274.7,"p":0.01391},{"g":"JJA","d":275.7,"p":0.01278},{"g":"JJA","d":276.6,"p":0.01221},{"g":"JJA","d":277.6,"p":0.01164},{"g":"JJA","d":278.7,"p":0.01122},{"g":"JJA","d":279.8,"p":0.0115},{"g":"JJA","d":280.8,"p":0.01164},{"g":"JJA","d":281.7,"p":0.01193},{"g":"JJA","d":282.7,"p":0.01164},{"g":"JJA","d":283.6,"p":0.01108},{"g":"JJA","d":284.6,"p":0.01059},{"g":"JJA","d":285.7,"p":0.01023},{"g":"JJA","d":286.8,"p":0.00986},{"g":"JJA","d":288,"p":0.00932},
  {"g":"SON","d":289.7,"p":0.00873},{"g":"SON","d":291.2,"p":0.00909},{"g":"SON","d":292.5,"p":0.00929},{"g":"SON","d":293.4,"p":0.00909},{"g":"SON","d":294.4,"p":0.00881},{"g":"SON","d":295.7,"p":0.00867},{"g":"SON","d":296.7,"p":0.00909},{"g":"SON","d":297.6,"p":0.00952},{"g":"SON","d":298.9,"p":0.01003},{"g":"SON","d":299.8,"p":0.01042},{"g":"SON","d":300.8,"p":0.01023},{"g":"SON","d":302.7,"p":0.01023},{"g":"SON","d":304,"p":0.01079},{"g":"SON","d":304.9,"p":0.01093},{"g":"SON","d":305.9,"p":0.01059},{"g":"SON","d":307.2,"p":0.01093},{"g":"SON","d":308.2,"p":0.01099},{"g":"SON","d":309.1,"p":0.01122},{"g":"SON","d":309.9,"p":0.01037},{"g":"SON","d":311,"p":0.01042},{"g":"SON","d":311.9,"p":0.01028},{"g":"SON","d":312.6,"p":0.01051},{"g":"SON","d":313.8,"p":0.01065},{"g":"SON","d":314.8,"p":0.01079},{"g":"SON","d":315.8,"p":0.01099},{"g":"SON","d":316.7,"p":0.01079},{"g":"SON","d":317.6,"p":0.01071},{"g":"SON","d":318.6,"p":0.01108},{"g":"SON","d":319.9,"p":0.01108},{"g":"SON","d":320.8,"p":0.01136},{"g":"SON","d":321.8,"p":0.01059},{"g":"SON","d":322.8,"p":0.01108},{"g":"SON","d":323.7,"p":0.01178},{"g":"SON","d":325,"p":0.01278},{"g":"SON","d":326,"p":0.01164},{"g":"SON","d":326.9,"p":0.01088},{"g":"SON","d":327.9,"p":0.01037},{"g":"SON","d":328.8,"p":0.01108},{"g":"SON","d":329.8,"p":0.01164},{"g":"SON","d":330.7,"p":0.01178},{"g":"SON","d":331.6,"p":0.01235},{"g":"SON","d":332.6,"p":0.01164},{"g":"SON","d":333.6,"p":0.01193},{"g":"SON","d":334.9,"p":0.01193},{"g":"SON","d":336.1,"p":0.01221},{"g":"SON","d":336.8,"p":0.0115},{"g":"SON","d":338,"p":0.01059},{"g":"SON","d":339,"p":0.01079},{"g":"SON","d":339.9,"p":0.01108},{"g":"SON","d":340.9,"p":0.01184},{"g":"SON","d":341.8,"p":0.01136},{"g":"SON","d":342.8,"p":0.01122},{"g":"SON","d":344.1,"p":0.00994},{"g":"SON","d":345,"p":0.01065},{"g":"SON","d":346,"p":0.01099},{"g":"SON","d":347.3,"p":0.0115},{"g":"SON","d":348.2,"p":0.01178},{"g":"SON","d":349.2,"p":0.0115},{"g":"SON","d":350.1,"p":0.01207},{"g":"SON","d":350.8,"p":0.01136},{"g":"SON","d":351.7,"p":0.01178},{"g":"SON","d":353,"p":0.01173},{"g":"SON","d":354.3,"p":0.01164},{"g":"SON","d":355.3,"p":0.01164},{"g":"SON","d":356.4,"p":0.01207},{"g":"SON","d":357.2,"p":0.01249},{"g":"SON","d":358.3,"p":0.01221},{"g":"SON","d":359.4,"p":0.01215},{"g":"SON","d":360.6,"p":0.01065},{"g":"SON","d":361.9,"p":0.00994},{"g":"SON","d":362.9,"p":0.01051},{"g":"SON","d":364.2,"p":0.01099},{"g":"SON","d":365.5,"p":0.01108},{"g":"SON","d":366.6,"p":0.01079},{"g":"SON","d":367.6,"p":0.01037},{"g":"SON","d":368.9,"p":0.01008},{"g":"SON","d":369.9,"p":0.01023},{"g":"SON","d":371.1,"p":0.01008},{"g":"SON","d":372.1,"p":0.01014},{"g":"SON","d":373.4,"p":0.0098},{"g":"SON","d":374.6,"p":0.00966},{"g":"SON","d":375.7,"p":0.01008},{"g":"SON","d":376.9,"p":0.01008},{"g":"SON","d":378.2,"p":0.00986},{"g":"SON","d":379.7,"p":0.01008},{"g":"SON","d":381,"p":0.01017}],
 "box": [
  {"g":"DJF","wlo":16,"whi":104,"q1":47.7,"nlo":58.7,"med":60,"nhi":61.3,"q3":71.9,"label":"Feb 29 (60)"},
  {"g":"MAM","wlo":106.5,"whi":195,"q1":134.3,"nlo":147.7,"med":149,"nhi":150.3,"q3":165.1,"label":"May 28 (149)"},
  {"g":"JJA","wlo":197.5,"whi":287,"q1":231.6,"nlo":246.7,"med":248,"nhi":249.3,"q3":263.4,"label":"Sep 4 (248)"},
  {"g":"SON","wlo":289.5,"whi":380,"q1":319,"nlo":332.7,"med":334,"nhi":335.3,"q3":349,"label":"Nov 29 (334)"}]
},
"vconcat": [
 {"width": 995, "height": 278,
  "layer": [
   {"data": {"name": "shade"}, "mark": {"type": "rect", "color": "#E5E5E5"},
    "encoding": {"x": {"field": "s", "type": "quantitative", "scale": {"domain": [1, 381], "nice": false, "zero": false}, "axis": null}, "x2": {"field": "e"}}},
   {"data": {"name": "band"}, "mark": {"type": "area", "color": "#0000CD", "opacity": 0.25},
    "encoding": {"x": {"field": "d", "type": "quantitative", "scale": {"domain": [1, 381], "nice": false, "zero": false}, "axis": null},
     "y": {"field": "lo", "type": "quantitative", "scale": {"domain": [0, 1], "nice": false, "zero": false},
      "axis": {"values": [0, 0.2, 0.4, 0.6, 0.8, 1], "format": ".1f", "title": "Probability Cₜ = 1", "titleX": -119, "titleY": 139, "titleBaseline": "middle", "titleAngle": -90}},
     "y2": {"field": "hi"}, "detail": {"field": "g"}}},
   {"data": {"name": "diag"}, "mark": {"type": "line", "color": "#0000CD", "strokeWidth": 1.4, "strokeDash": [6, 5]},
    "encoding": {"x": {"field": "d", "type": "quantitative", "axis": null}, "y": {"field": "p", "type": "quantitative"}, "detail": {"field": "g"}}},
   {"data": {"name": "env"}, "mark": {"type": "line", "color": "#0000CD", "strokeWidth": 1.6},
    "encoding": {"x": {"field": "d", "type": "quantitative", "axis": null}, "y": {"field": "p", "type": "quantitative"}, "detail": [{"field": "g"}, {"field": "b"}]}},
   {"data": {"name": "med"}, "mark": {"type": "line", "color": "#0000CD", "strokeWidth": 3.2},
    "encoding": {"x": {"field": "d", "type": "quantitative", "axis": null}, "y": {"field": "p", "type": "quantitative"}, "detail": {"field": "g"}}},
   {"data": {"values": [{}]}, "mark": {"type": "rule", "color": "#FF0000", "strokeWidth": 1.6, "strokeDash": [2, 3]},
    "encoding": {"x": {"datum": 1, "type": "quantitative", "axis": null}, "x2": {"datum": 394.5}, "y": {"datum": 0.5, "type": "quantitative"}}}
  ]},
 {"width": 995, "height": 467,
  "layer": [
   {"data": {"name": "shade"}, "mark": {"type": "rect", "color": "#E5E5E5"},
    "encoding": {"x": {"field": "s", "type": "quantitative", "scale": {"domain": [1, 381], "nice": false, "zero": false},
      "axis": {"values": [15, 105, 196, 288, 381], "title": null, "offset": 20, "domain": false, "labelPadding": 6, "labelLineHeight": 28,
       "labelExpr": "datum.value == 15 ? ['Jan 15 (15)', '(DJF)'] : datum.value == 105 ? ['Apr 14 (105)', '(MAM)'] : datum.value == 196 ? ['Jul 14 (196)', '(JJA)'] : datum.value == 288 ? ['Oct 14 (288)', '(SON)'] : ['Jan 15 (15)', '(DJF)']"}},
     "x2": {"field": "e"}}},
   {"data": {"name": "blue"}, "mark": {"type": "line", "color": "#0000CD", "strokeWidth": 1.6},
    "encoding": {"x": {"field": "d", "type": "quantitative"},
     "y": {"field": "p", "type": "quantitative", "scale": {"domain": [-0.00663, 0.03306], "nice": false, "zero": false},
      "axis": {"values": [0, 0.01, 0.02, 0.03], "format": ".2f", "domain": false, "title": "Probability of Season Onset", "titleX": -119, "titleY": 233.5, "titleBaseline": "middle", "titleAngle": -90}},
     "detail": {"field": "g"}}},
   {"data": {"values": [{}]}, "mark": {"type": "rule", "color": "#000", "strokeWidth": 1.3},
    "encoding": {"x": {"datum": 1, "type": "quantitative"}, "y": {"datum": 0, "type": "quantitative"}, "y2": {"datum": 0.03}}},
   {"data": {"values": [{}]}, "mark": {"type": "rule", "color": "#000", "strokeWidth": 1.3},
    "encoding": {"x": {"datum": 15, "type": "quantitative"}, "x2": {"datum": 381}, "y": {"datum": -0.00833, "type": "quantitative"}}},
   {"data": {"name": "red"}, "mark": {"type": "line", "color": "#FF0000", "strokeWidth": 2.6},
    "encoding": {"x": {"field": "d", "type": "quantitative"}, "y": {"field": "p", "type": "quantitative"}, "detail": {"field": "g"}}},
   {"data": {"name": "box"}, "mark": {"type": "rule", "color": "#000", "strokeWidth": 1.3, "strokeDash": [5, 4]},
    "encoding": {"x": {"field": "wlo", "type": "quantitative"}, "x2": {"field": "whi"}, "y": {"datum": -0.00408, "type": "quantitative"}}},
   {"data": {"name": "box"}, "mark": {"type": "rule", "color": "#000", "strokeWidth": 1.3},
    "encoding": {"x": {"field": "wlo", "type": "quantitative"}, "y": {"datum": -0.00345, "type": "quantitative"}, "y2": {"datum": -0.00471}}},
   {"data": {"name": "box"}, "mark": {"type": "rule", "color": "#000", "strokeWidth": 1.3},
    "encoding": {"x": {"field": "whi", "type": "quantitative"}, "y": {"datum": -0.00345, "type": "quantitative"}, "y2": {"datum": -0.00471}}},
   {"data": {"name": "box"}, "mark": {"type": "rect", "color": "#FFFFFF"},
    "encoding": {"x": {"field": "q1", "type": "quantitative"}, "x2": {"field": "q3"}, "y": {"datum": -0.00272, "type": "quantitative"}, "y2": {"datum": -0.00544}}},
   {"data": {"name": "box"}, "mark": {"type": "rule", "color": "#000", "strokeWidth": 1.3},
    "encoding": {"x": {"field": "q1", "type": "quantitative"}, "x2": {"field": "nlo"}, "y": {"datum": -0.00272, "type": "quantitative"}}},
   {"data": {"name": "box"}, "mark": {"type": "rule", "color": "#000", "strokeWidth": 1.3},
    "encoding": {"x": {"field": "nhi", "type": "quantitative"}, "x2": {"field": "q3"}, "y": {"datum": -0.00272, "type": "quantitative"}}},
   {"data": {"name": "box"}, "mark": {"type": "rule", "color": "#000", "strokeWidth": 1.3},
    "encoding": {"x": {"field": "q1", "type": "quantitative"}, "x2": {"field": "nlo"}, "y": {"datum": -0.00544, "type": "quantitative"}}},
   {"data": {"name": "box"}, "mark": {"type": "rule", "color": "#000", "strokeWidth": 1.3},
    "encoding": {"x": {"field": "nhi", "type": "quantitative"}, "x2": {"field": "q3"}, "y": {"datum": -0.00544, "type": "quantitative"}}},
   {"data": {"name": "box"}, "mark": {"type": "rule", "color": "#000", "strokeWidth": 1.3},
    "encoding": {"x": {"field": "q1", "type": "quantitative"}, "y": {"datum": -0.00272, "type": "quantitative"}, "y2": {"datum": -0.00544}}},
   {"data": {"name": "box"}, "mark": {"type": "rule", "color": "#000", "strokeWidth": 1.3},
    "encoding": {"x": {"field": "q3", "type": "quantitative"}, "y": {"datum": -0.00272, "type": "quantitative"}, "y2": {"datum": -0.00544}}},
   {"data": {"name": "box"}, "mark": {"type": "rule", "color": "#000", "strokeWidth": 1.3},
    "encoding": {"x": {"field": "nlo", "type": "quantitative"}, "x2": {"field": "med"}, "y": {"datum": -0.00272, "type": "quantitative"}, "y2": {"datum": -0.00365}}},
   {"data": {"name": "box"}, "mark": {"type": "rule", "color": "#000", "strokeWidth": 1.3},
    "encoding": {"x": {"field": "nhi", "type": "quantitative"}, "x2": {"field": "med"}, "y": {"datum": -0.00272, "type": "quantitative"}, "y2": {"datum": -0.00365}}},
   {"data": {"name": "box"}, "mark": {"type": "rule", "color": "#000", "strokeWidth": 1.3},
    "encoding": {"x": {"field": "nlo", "type": "quantitative"}, "x2": {"field": "med"}, "y": {"datum": -0.00544, "type": "quantitative"}, "y2": {"datum": -0.00451}}},
   {"data": {"name": "box"}, "mark": {"type": "rule", "color": "#000", "strokeWidth": 1.3},
    "encoding": {"x": {"field": "nhi", "type": "quantitative"}, "x2": {"field": "med"}, "y": {"datum": -0.00544, "type": "quantitative"}, "y2": {"datum": -0.00451}}},
   {"data": {"name": "box"}, "mark": {"type": "rule", "color": "#000", "strokeWidth": 4},
    "encoding": {"x": {"field": "med", "type": "quantitative"}, "y": {"datum": -0.00365, "type": "quantitative"}, "y2": {"datum": -0.00451}}},
   {"data": {"name": "box"}, "mark": {"type": "text", "fontSize": 27, "baseline": "middle", "align": "center", "color": "#000"},
    "encoding": {"x": {"field": "med", "type": "quantitative"}, "y": {"datum": -0.0069, "type": "quantitative"}, "text": {"field": "label"}}}
  ]}
]
}
